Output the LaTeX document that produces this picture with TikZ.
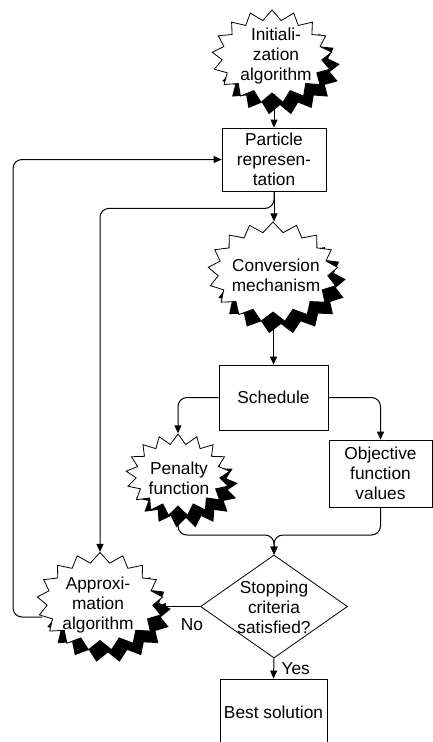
\documentclass[tikz,border=0pt]{standalone}
\usepackage{fontspec}
\setmainfont{Liberation Sans}
\usetikzlibrary{shapes.symbols,shapes.geometric,shadows,arrows.meta}
\begin{document}
\begin{tikzpicture}[x=1pt,y=-1pt,
  every node/.style={font=\fontsize{17.3}{20}\selectfont},
  burst/.style={shape=starburst, starburst points=17, starburst point height=10pt, random starburst=0, draw=black, line width=0.8pt, fill=white, inner sep=0pt,
    general shadow={fill=black, shadow xshift=8pt, shadow yshift=-12pt}},
  txt/.style={align=center, inner sep=0pt},
  box/.style={draw, line width=0.8pt, fill=white, align=center, inner sep=0pt},
  conn/.style={line width=1pt, rounded corners=9pt},
  arr/.style={conn, -{Triangle[length=8pt,width=7pt]}}
]
\useasboundingbox (0,0) rectangle (433,742);
% nodes
\node[burst, minimum width=120pt, minimum height=93pt] (initS) at (272,56.5) {};
\node[txt] (init) at (276,56) {Initiali-\\zation\\algorithm};
\node[box, minimum width=104pt, minimum height=63pt] (part) at (274,159.5) {Particle\\represen-\\tation};
\node[burst, minimum width=130pt, minimum height=100pt] (convS) at (273,272) {};
\node[txt] (conv) at (276,275) {Conversion\\mechanism};
\node[box, minimum width=109pt, minimum height=65pt] (sched) at (273.5,397.5) {Schedule};
\node[burst, minimum width=104pt, minimum height=82pt] (penS) at (178,475) {};
\node[txt] (pen) at (179,478) {Penalty\\function};
\node[box, minimum width=103pt, minimum height=67pt] (obj) at (380.5,473.5) {Objective\\function\\values};
\node[shape=diamond, draw, line width=0.8pt, fill=white, minimum width=147pt, minimum height=103pt, inner sep=0pt] (dia) at (274,606.5) {};
\node[txt] (diaT) at (274,607) {Stopping\\criteria\\satisfied?};
\node[burst, minimum width=126pt, minimum height=98pt] (apS) at (100,601.5) {};
\node[txt] (ap) at (98,605) {Approxi-\\mation\\algorithm};
\node[box, minimum width=107pt, minimum height=67pt] (best) at (273.5,712.5) {Best solution};
% connectors
\coordinate (jn) at (274,535);
\coordinate (loopx) at (13,617);
\draw[arr] (part.north |- initS.south) -- (part.north);
\draw[arr] (part.south) -- (part.south |- convS.north);
\draw[arr] (part.south) -- ++(0,17) -| (apS.north);
\draw[arr] ([yshift=-15.5pt]apS.west) -- (loopx) |- (part.west);
\draw[arr] (sched.north |- convS.south) -- (sched.north);
\draw[arr] (sched.west) -| (penS.north);
\draw[arr] (sched.east) -| (obj.north);
\draw[arr] (penS.south) |- (jn) -- (dia.north);
\draw[arr] (obj.south) |- (jn) -- (dia.north);
\draw[arr] (dia.west) -- (dia.west -| apS.east);
\node[anchor=center, inner sep=0pt] (no) at (192,625) {No};
\draw[arr] (dia.south) -- (best.north) node[pos=0.5, right=4pt] (yes) {Yes};
\end{tikzpicture}
\end{document}
